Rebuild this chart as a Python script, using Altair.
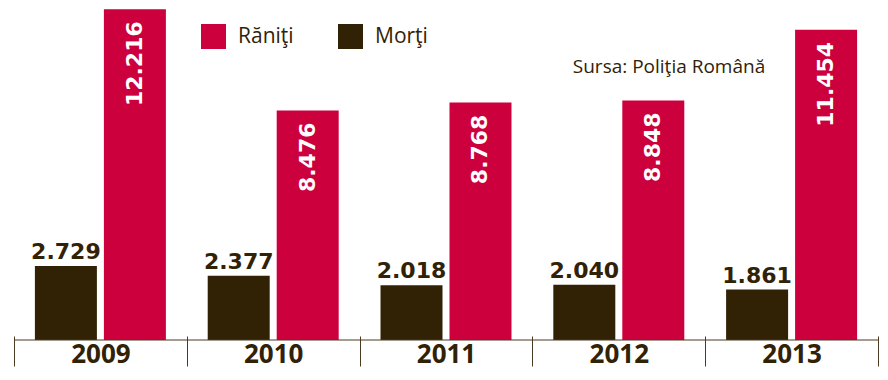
import altair as alt
import pandas as pd

years = ["2009", "2010", "2011", "2012", "2013"]
morti = [2729, 2377, 2018, 2040, 1861]
raniti = [12216, 8476, 8768, 8848, 11454]
legend_order = ["Răniţi", "Morţi"]
bar_order = ["Morţi", "Răniţi"]
colors = ["#cc003d", "#312206"]
source_note = "Sursa: Poliţia Română"

DARK = "#312206"
W, H = 864, 332
YMAX = 12260

rows = []
for i, yr in enumerate(years):
    rows.append({"an": yr, "serie": "Morţi", "v": morti[i]})
    rows.append({"an": yr, "serie": "Răniţi", "v": raniti[i]})
df = pd.DataFrame(rows)

x_enc = alt.X(
    "an:N",
    scale=alt.Scale(paddingInner=0, paddingOuter=0),
    axis=alt.Axis(
        title=None, labelAngle=0, domain=False, tickBand="extent",
        tickSize=30, offset=-4, tickColor="#4a3b22", tickWidth=1,
        labelFont="Open Sans", labelFontWeight="bold", labelFontSize=26,
        labelColor=DARK, labelPadding=1, labelBaseline="bottom",
    ),
)
xo_enc = alt.XOffset(
    "serie:N",
    scale=alt.Scale(domain=bar_order, paddingInner=0.1014, paddingOuter=0.303),
)
y_enc = alt.Y("v:Q", scale=alt.Scale(domain=[0, YMAX], nice=False), axis=None)

base = alt.Chart(df)

bars = base.mark_bar().encode(
    x=x_enc,
    xOffset=xo_enc,
    y=y_enc,
    color=alt.Color(
        "serie:N",
        scale=alt.Scale(domain=legend_order, range=colors),
        legend=alt.Legend(
            title=None, orient="none", legendX=187, legendY=16,
            direction="horizontal", symbolType="square", symbolSize=625,
            symbolStrokeWidth=0, symbolOpacity=1,
            labelFont="Open Sans", labelFontSize=21, labelColor=DARK,
            labelOffset=12, columnPadding=44, labelLimit=300,
        ),
    ),
)

fmt = "replace(format(datum.v, ','), ',', '.')"

lab_m = base.transform_filter(alt.datum.serie == "Morţi").transform_calculate(
    lbl=fmt
).mark_text(
    font="DejaVu Sans", fontWeight="bold", fontSize=22, color=DARK,
    baseline="alphabetic", dy=-7,
).encode(x=x_enc, xOffset=xo_enc, y=y_enc, text="lbl:N")

lab_r = base.transform_filter(alt.datum.serie == "Răniţi").transform_calculate(
    lbl=fmt
).mark_text(
    font="DejaVu Sans", fontWeight="bold", fontSize=22, color="white",
    angle=270, align="right", baseline="middle", dx=-12,
).encode(x=x_enc, xOffset=xo_enc, y=y_enc, text="lbl:N")

axis_line = alt.Chart(pd.DataFrame({"z": [0]})).mark_rule(
    color="#4a3b22", strokeWidth=1
).encode(y=alt.datum(0), x=alt.value(0), x2=alt.value(W))

src = alt.Chart(pd.DataFrame({"t": [source_note]})).mark_text(
    font="Open Sans", fontSize=19, color=DARK, align="center", baseline="alphabetic"
).encode(text="t:N", x=alt.value(655), y=alt.value(65))

chart = alt.layer(bars, lab_m, lab_r, axis_line, src).properties(
    width=W, height=H,
    autosize=alt.AutoSizeParams(type="none"),
    padding={"left": 6, "top": 0, "right": 2, "bottom": 31},
    background="white",
).configure_view(stroke=None)

chart.save("out.html", embed_options={"renderer": "svg", "actions": False})
